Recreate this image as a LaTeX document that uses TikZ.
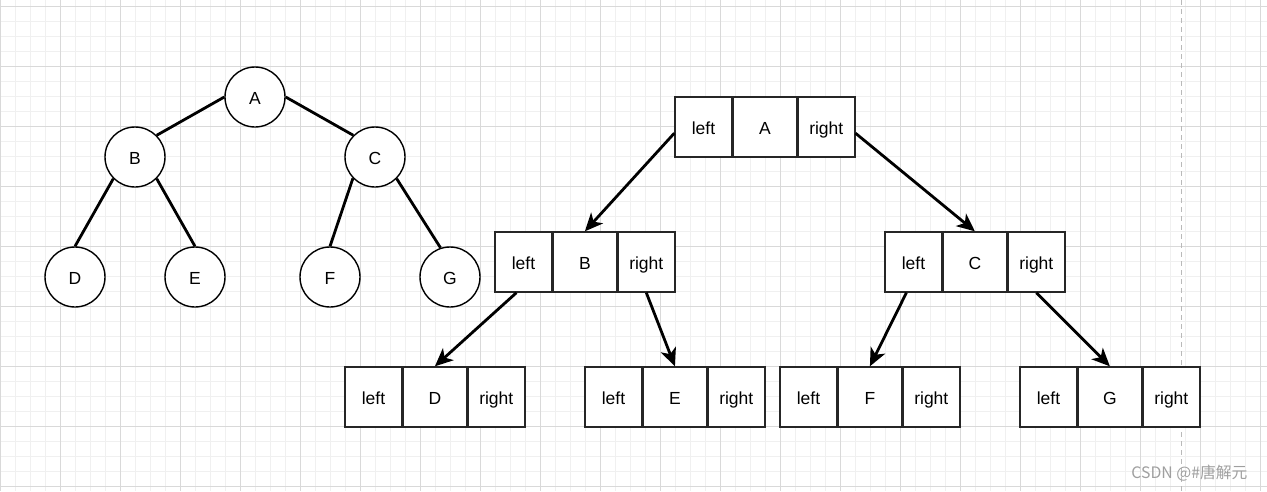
\documentclass[tikz,border=0pt]{standalone}
\usepackage{fontspec}
\setmainfont{Liberation Sans}
\newfontfamily\cjk{Noto Sans CJK SC}
\usetikzlibrary{shapes,arrows.meta,positioning}

\tikzset{
  tnode/.style={circle, draw=black, line width=1.4pt, fill=white, minimum size=60pt, inner sep=0pt,
    text height=17pt, text depth=2pt, font=\fontsize{17.5}{20}\selectfont},
  cell/.style={rectangle, draw=black!85, line width=1.4pt, fill=white, minimum height=60pt, inner sep=0pt,
    text height=17pt, text depth=2pt, font=\fontsize{17.5}{20}\selectfont},
  tedge/.style={line width=2.8pt},
  ptr/.style={line width=2.8pt, -{Stealth[length=18pt,width=16pt,inset=5pt]}},
  minorline/.style={gray!12, line width=0.8pt},
  majorline/.style={gray!30, line width=0.8pt}
}

\begin{document}
\begin{tikzpicture}[x=1pt, y=-1pt]
  \useasboundingbox[fill=white] (0,0) rectangle (1267,491);
  % grid
  \foreach \x in {15,30,...,1260} \draw[minorline] (\x,0)--(\x,491);
  \foreach \y in {6,21,...,486} \draw[minorline] (0,\y)--(1267,\y);
  \foreach \x in {0,60,...,1260} \draw[majorline] (\x,0)--(\x,491);
  \foreach \y in {6,66,...,486} \draw[majorline] (0,\y)--(1267,\y);
  \draw[gray!55, line width=1pt, dash pattern=on 5pt off 4pt] (1181,0)--(1181,491);

  % binary tree
  \node[tnode] (A) at (255,97) {A};
  \node[tnode] (B) at (135,157) {B};
  \node[tnode] (C) at (375,157) {C};
  \node[tnode] (D) at (75,277) {D};
  \node[tnode] (E) at (195,277) {E};
  \node[tnode] (F) at (330,277) {F};
  \node[tnode] (G) at (450,277) {G};
  \draw[tedge] (A.west)--(B.45);
  \draw[tedge] (A.east)--(C.135);
  \draw[tedge] (B.225)--(D.north);
  \draw[tedge] (B.-45)--(E.north);
  \draw[tedge] (C.224)--(F.north);
  \draw[tedge] (C.-45)--(G.108);

  % linked storage
  \foreach \n/\x/\y in {A/703.5/127, B/523.5/262, C/913.5/262, D/373.5/397,
                        E/613.5/397, F/808.5/397, G/1048.5/397}{
    \node[cell, minimum width=57pt] (\n-l) at (\x,\y) {left};
    \node[cell, minimum width=63pt, right=0pt of \n-l] (\n-m) {\n};
    \node[cell, minimum width=57pt, right=0pt of \n-m] (\n-r) {right};
  }
  \draw[ptr] (A-l.192)--(B-m.north);
  \draw[ptr] (A-r.-12)--(C-m.north);
  \draw[ptr] (B-l.-103)--(D-m.north);
  \draw[ptr] (B-r.south)--(E-m.north);
  \draw[ptr] (C-l.-103)--(F-m.north);
  \draw[ptr] (C-r.south)--(G-m.north);

  \node[anchor=east, text=gray!75, font=\cjk\fontsize{15.8}{18}\selectfont] (mark) at (1251,473) {CSDN @\#唐解元};
\end{tikzpicture}
\end{document}
